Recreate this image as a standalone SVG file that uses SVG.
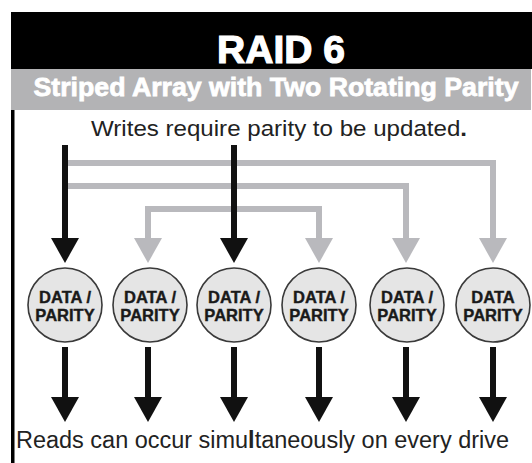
<svg xmlns="http://www.w3.org/2000/svg" width="532" height="463" viewBox="0 0 532 463">
  <style>
    .title { font-family: "Liberation Sans", Arial, sans-serif; font-weight: bold; fill: #ffffff; stroke: #ffffff; }
    .body { font-family: "Liberation Sans", Arial, sans-serif; fill: #222222; }
    .disk circle { fill: #e5e5e5; stroke: #3a3a3a; stroke-width: 1.6; }
    .disk text { font-family: "Liberation Sans", Arial, sans-serif; font-weight: bold; font-size: 16.5px; fill: #1a1a1a; stroke: #1a1a1a; stroke-width: 0.4; text-anchor: middle; }
    .g { stroke: #b9b9bd; stroke-width: 6; fill: none; }
    .k { stroke: #111111; stroke-width: 6; fill: none; }
    .gh { fill: #b9b9bd; }
    .kh { fill: #111111; }
  </style>
  <rect x="0" y="0" width="532" height="463" fill="#ffffff"/>
  <g id="header">
    <rect x="11" y="12" width="521" height="57" fill="#000000"/>
    <rect x="11" y="69" width="520" height="41" fill="#b3b3b5"/>
    <rect x="11" y="110" width="3.5" height="353" fill="#000000"/>
    <text class="title" x="281" y="63" font-size="39" stroke-width="1.2" text-anchor="middle">RAID 6</text>
    <text class="title" x="276" y="96" font-size="26.5" stroke-width="0.8" text-anchor="middle" textLength="485" lengthAdjust="spacingAndGlyphs">Striped Array with Two Rotating Parity</text>
    <text class="body" x="91" y="136" font-size="22.5" textLength="376" lengthAdjust="spacingAndGlyphs">Writes require parity to be updated<tspan font-weight="bold">.</tspan></text>
    <text class="body" x="16" y="448" font-size="23" textLength="493" lengthAdjust="spacingAndGlyphs">Reads can occur simu<tspan font-weight="bold">l</tspan>taneously on every drive</text>
  </g>
  <g id="connectors">
    <polyline class="g" points="65,163 493,163 493,240"/>
    <polyline class="g" points="65,186 406,186 406,240"/>
    <polyline class="g" points="148,240 148,209 319,209 319,240"/>
    <polygon class="gh" points="134,238 162,238 148,263"/>
    <polygon class="gh" points="305,238 333,238 319,263"/>
    <polygon class="gh" points="392,238 420,238 406,263"/>
    <polygon class="gh" points="479,238 507,238 493,263"/>
    <line class="k" x1="65" y1="145" x2="65" y2="240"/>
    <line class="k" x1="234" y1="145" x2="234" y2="240"/>
    <polygon class="kh" points="51,238 79,238 65,263"/>
    <polygon class="kh" points="220,238 248,238 234,263"/>
    <line class="k" x1="65" y1="347" x2="65" y2="399"/>
    <line class="k" x1="148" y1="347" x2="148" y2="399"/>
    <line class="k" x1="234" y1="347" x2="234" y2="399"/>
    <line class="k" x1="319" y1="347" x2="319" y2="399"/>
    <line class="k" x1="406" y1="347" x2="406" y2="399"/>
    <line class="k" x1="493" y1="347" x2="493" y2="399"/>
    <polygon class="kh" points="51,397 79,397 65,422"/>
    <polygon class="kh" points="134,397 162,397 148,422"/>
    <polygon class="kh" points="220,397 248,397 234,422"/>
    <polygon class="kh" points="305,397 333,397 319,422"/>
    <polygon class="kh" points="392,397 420,397 406,422"/>
    <polygon class="kh" points="479,397 507,397 493,422"/>
  </g>
  <g id="disk1" class="disk"><circle cx="65" cy="305" r="37"/><text x="65" y="303">DATA /</text><text x="65" y="321">PARITY</text></g>
  <g id="disk2" class="disk"><circle cx="150" cy="305" r="37"/><text x="150" y="303">DATA /</text><text x="150" y="321">PARITY</text></g>
  <g id="disk3" class="disk"><circle cx="234" cy="305" r="37"/><text x="234" y="303">DATA /</text><text x="234" y="321">PARITY</text></g>
  <g id="disk4" class="disk"><circle cx="319" cy="305" r="37"/><text x="319" y="303">DATA /</text><text x="319" y="321">PARITY</text></g>
  <g id="disk5" class="disk"><circle cx="407" cy="305" r="37"/><text x="407" y="303">DATA /</text><text x="407" y="321">PARITY</text></g>
  <g id="disk6" class="disk"><circle cx="493" cy="305" r="37"/><text x="493" y="303">DATA</text><text x="493" y="321">PARITY</text></g>
</svg>
